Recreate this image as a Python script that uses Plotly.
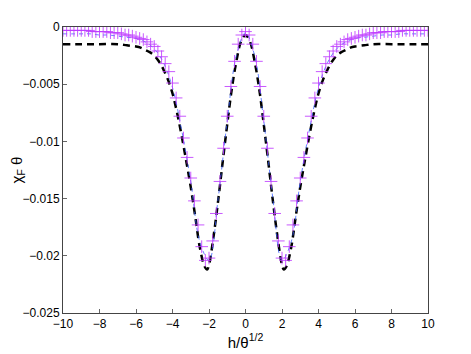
import numpy as np
import plotly.graph_objects as go

# Magenta "+" series, h from -10 to 10 step 0.2
PLUS_VALUES = [
    -0.0003, -0.0003, -0.0003, -0.0003, -0.0003, -0.0003, -0.0003, -0.0003,
    -0.0004, -0.0004, -0.0004, -0.0004, -0.0004,
    -0.0005, -0.0005, -0.0005, -0.0006, -0.0007, -0.0007,
    -0.0008, -0.0009, -0.0010, -0.0011, -0.0013, -0.0015, -0.0017, -0.0021,
    -0.0026, -0.0032, -0.0039, -0.0049, -0.0062, -0.0078, -0.0097, -0.0114,
    -0.0132, -0.0152, -0.0173, -0.0192, -0.0204, -0.0202, -0.0187, -0.0163,
    -0.0135, -0.0106, -0.0078, -0.0052, -0.0030, -0.0015, -0.0007,
    -0.0004,
    -0.0007, -0.0015, -0.0030, -0.0052, -0.0078, -0.0106, -0.0135, -0.0163,
    -0.0187, -0.0202, -0.0204, -0.0192, -0.0173, -0.0152, -0.0132, -0.0114,
    -0.0097, -0.0078, -0.0062, -0.0049, -0.0039, -0.0032, -0.0026, -0.0021,
    -0.0017, -0.0015, -0.0013, -0.0011, -0.0010, -0.0009, -0.0008,
    -0.0007, -0.0007, -0.0006, -0.0005, -0.0005, -0.0005,
    -0.0004, -0.0004, -0.0004, -0.0004, -0.0004,
    -0.0003, -0.0003, -0.0003, -0.0003, -0.0003, -0.0003, -0.0003, -0.0003,
]
PLUS_H = np.linspace(-10, 10, len(PLUS_VALUES))

# Black dashed series
BLACK_H = [-10, -9, -8, -7, -6.5, -6, -5.75, -5.5, -5.25, -5, -4.75, -4.5, -4.25,
           -4, -3.75, -3.5, -3.25, -3, -2.75, -2.5, -2.25, -2.1, -2, -1.75, -1.5,
           -1.25, -1, -0.75, -0.5, -0.25, 0,
           0.25, 0.5, 0.75, 1, 1.25, 1.5, 1.75, 2, 2.1, 2.25, 2.5, 2.75, 3, 3.25,
           3.5, 3.75, 4, 4.25, 4.5, 4.75, 5, 5.25, 5.5, 5.75, 6, 6.5, 7, 8, 9, 10]
BLACK_VALUES = [-0.0015, -0.0015, -0.0015, -0.0015, -0.0016, -0.0017, -0.0018,
                -0.0020, -0.0022, -0.0025, -0.0030, -0.0037, -0.0046, -0.0058,
                -0.0075, -0.0095, -0.0117, -0.0140, -0.0166, -0.0193, -0.0209,
                -0.0212, -0.0208, -0.0183, -0.0152, -0.0118, -0.0085, -0.0054,
                -0.0030, -0.0013, -0.0007,
                -0.0013, -0.0030, -0.0054, -0.0085, -0.0118, -0.0152, -0.0183,
                -0.0208, -0.0212, -0.0209, -0.0193, -0.0166, -0.0140, -0.0117,
                -0.0095, -0.0075, -0.0058, -0.0046, -0.0037, -0.0030, -0.0025,
                -0.0022, -0.0020, -0.0018, -0.0017, -0.0016, -0.0015, -0.0015,
                -0.0015, -0.0015]

# Blue thin dashed series, h step 0.5
BLUE_VALUES = [-0.0006, -0.0006, -0.0006, -0.0006, -0.0007, -0.0007, -0.0008,
               -0.0009, -0.0010, -0.0013, -0.0019, -0.0031, -0.0053, -0.0090,
               -0.0135, -0.0188, -0.0204, -0.0150, -0.0082, -0.0025,
               -0.0005,
               -0.0025, -0.0082, -0.0150, -0.0204, -0.0188, -0.0135, -0.0090,
               -0.0053, -0.0031, -0.0019, -0.0013, -0.0010, -0.0009, -0.0008,
               -0.0007, -0.0007, -0.0006, -0.0006, -0.0006, -0.0006]
BLUE_H = np.linspace(-10, 10, len(BLUE_VALUES))

X_TICKS = [-10, -8, -6, -4, -2, 0, 2, 4, 6, 8, 10]
Y_TICKS = [-0.025, -0.02, -0.015, -0.01, -0.005, 0]
Y_LABELS = ["\u22120.025", "\u22120.02", "\u22120.015", "\u22120.01", "\u22120.005", "0"]
X_LABELS = ["\u221210", "\u22128", "\u22126", "\u22124", "\u22122", "0", "2", "4", "6", "8", "10"]

MAGENTA = "rgba(190,60,255,0.85)"

fig = go.Figure()
fig.add_trace(go.Scatter(x=BLACK_H, y=BLACK_VALUES, mode="lines", line_shape="spline",
                         line=dict(color="black", width=2.5, dash="7px,5px"),
                         showlegend=False))
fig.add_trace(go.Scatter(x=BLUE_H, y=BLUE_VALUES, mode="lines", line_shape="spline",
                         line=dict(color="rgba(50,90,255,0.75)", width=1, dash="4px,4px"),
                         showlegend=False))
fig.add_trace(go.Scatter(x=PLUS_H, y=PLUS_VALUES, mode="markers",
                         marker=dict(symbol="cross-thin-open", size=9, color=MAGENTA,
                                     line=dict(color=MAGENTA, width=1)),
                         showlegend=False))

axis_common = dict(showline=True, linecolor="#444", linewidth=1, mirror=True,
                   ticks="inside", ticklen=4, tickcolor="#666", showgrid=False,
                   zeroline=False, automargin=False,
                   tickfont=dict(family="Liberation Sans, Arial", size=12, color="black"))

fig.update_layout(
    width=471, height=354,
    margin=dict(l=55, r=51, t=19, b=49),
    paper_bgcolor="white", plot_bgcolor="white",
    xaxis=dict(range=[-10, 10], tickvals=X_TICKS, ticktext=X_LABELS,
               title=dict(text="h/\u03b8<sup>1/2</sup>", standoff=4,
                          font=dict(family="Liberation Sans, Arial", size=15, color="black")),
               **axis_common),
    yaxis=dict(range=[-0.025, 0], tickvals=Y_TICKS, ticktext=Y_LABELS,
               title=dict(text="\u03c7<sub>F</sub> \u03b8", standoff=6,
                          font=dict(family="Liberation Sans, Arial", size=15, color="black")),
               **axis_common),
)

fig.write_html("out.html")
